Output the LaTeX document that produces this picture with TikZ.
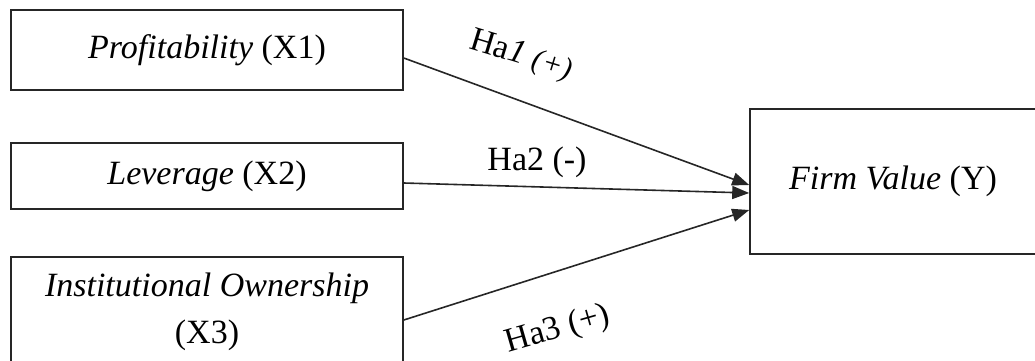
\documentclass[tikz,border=0pt]{standalone}
\usepackage{fontspec}
\setmainfont{Liberation Serif}
\usetikzlibrary{arrows.meta}
\begin{document}
\begin{tikzpicture}[x=1pt,y=-1pt,
  every node/.style={font=\fontsize{34}{40}\selectfont},
  varbox/.style={draw=black!85, line width=1.6pt, rectangle, inner sep=0pt, align=center},
  conn/.style={draw=black!85, line width=1.6pt, -{Triangle[length=17pt,width=13pt]}},
  lbl/.style={inner sep=0pt}]
\useasboundingbox (0,0) rectangle (1035,360);
\node[varbox, minimum width=392pt, minimum height=80pt] (b1) at (207,50) {\textit{Profitability} (X1)};
\node[varbox, minimum width=392pt, minimum height=66pt] (b2) at (207,176) {\textit{Leverage} (X2)};
\node[varbox, minimum width=392pt, minimum height=110pt, font=\fontsize{34}{47}\selectfont] (b3) at (207,312) {\textit{Institutional Ownership}\\(X3)};
\node[varbox, minimum width=286pt, minimum height=145pt] (y) at (893,181.5) {\textit{Firm Value} (Y)};
\draw[conn] ([yshift=-8pt]b1.east) -- ([yshift=-3.5pt]y.west);
\draw[conn] ([yshift=-7pt]b2.east) -- ([yshift=-11.5pt]y.west);
\draw[conn] ([yshift=-8pt]b3.east) -- ([yshift=-28.5pt]y.west);
\node[lbl, rotate=-17] (l1) at (521,56) {Ha\textit{1} {\fontsize{30}{34}\selectfont\textit{(+)}}};
\node[lbl] (l2) at (537,162) {Ha2 (-)};
\node[lbl, rotate=16] (l3) at (558,330) {Ha3 (+)};
\end{tikzpicture}
\end{document}
